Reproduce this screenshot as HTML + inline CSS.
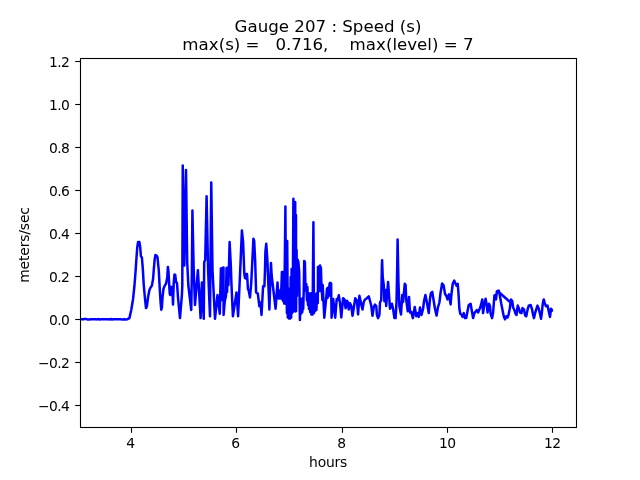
<!DOCTYPE html>
<html><head><meta charset="utf-8"><title>Gauge 207 : Speed (s)</title>
<style>
html,body{margin:0;padding:0;background:#fff;}
body{width:640px;height:480px;overflow:hidden;}
svg{display:block;}
text{font-family:"DejaVu Sans","Liberation Sans",sans-serif;fill:#000;}
.t{font-size:13.89px;letter-spacing:-0.6px;}
.h{font-size:16.67px;}
</style></head><body>
<svg width="640" height="480" viewBox="0 0 640 480">
<rect width="640" height="480" fill="#fff"/>
<clipPath id="c"><rect x="80" y="57.6" width="496" height="369.6"/></clipPath>
<path d="M80.00,319.05 L81.65,319.14 L83.38,319.31 L84.46,318.91 L86.46,319.07 L87.74,319.55 L89.31,319.44 L90.88,319.32 L92.06,319.31 L94.10,319.24 L95.99,319.34 L97.07,319.39 L98.78,319.10 L99.81,319.46 L101.38,319.37 L103.44,319.36 L105.54,319.16 L107.50,319.19 L109.62,319.47 L110.74,318.99 L112.00,319.53 L113.53,319.31 L114.89,319.23 L116.35,319.13 L118.05,319.28 L120.14,319.34 L122.25,319.46 L124.44,319.34 L125.64,319.46 L127.50,319.20 L129.40,318.10 L131.25,310.00 L133.10,298.75 L134.40,286.25 L135.60,271.00 L136.50,257.50 L137.25,247.50 L138.10,241.90 L139.40,241.90 L140.25,247.50 L140.90,256.25 L141.90,257.50 L142.50,265.00 L142.90,270.00 L143.75,285.00 L145.00,298.75 L146.00,308.10 L146.90,306.25 L148.10,296.90 L149.40,290.00 L150.60,287.50 L151.90,285.60 L153.10,278.75 L153.75,270.00 L154.60,260.00 L155.40,255.00 L156.60,255.60 L157.50,257.25 L158.10,263.75 L158.75,270.00 L159.75,288.75 L160.60,302.50 L161.25,309.75 L161.90,307.50 L162.50,297.50 L163.50,288.75 L164.75,285.60 L166.00,283.75 L167.25,277.50 L167.90,266.90 L168.50,272.00 L169.10,282.50 L169.75,293.75 L170.25,295.00 L171.00,286.90 L172.25,286.90 L173.00,304.40 L173.75,282.50 L174.50,274.40 L175.25,275.00 L176.00,281.90 L177.00,283.10 L178.10,298.75 L180.00,318.10 L181.90,295.00 L182.30,286.00 L182.75,165.40 L184.30,265.50 L186.00,170.00 L187.20,262.00 L188.30,285.00 L191.25,310.00 L191.90,270.00 L192.40,210.40 L193.70,270.00 L195.00,305.00 L197.90,270.20 L200.60,318.10 L201.90,282.50 L203.75,318.75 L204.20,262.00 L205.20,260.00 L206.60,196.25 L208.10,270.00 L210.00,316.25 L211.25,182.50 L212.50,270.00 L215.00,318.75 L217.50,295.00 L219.80,313.75 L220.90,268.50 L221.60,300.00 L222.30,268.00 L223.00,300.00 L223.50,267.50 L223.60,315.00 L224.80,301.00 L226.00,296.00 L226.50,268.00 L227.10,292.00 L227.80,267.50 L228.40,285.00 L229.00,266.00 L229.60,242.00 L230.80,265.00 L231.50,285.00 L232.90,316.25 L236.50,292.50 L238.10,316.25 L240.00,275.00 L241.90,230.60 L243.10,242.00 L244.30,273.50 L245.00,278.00 L245.60,274.00 L246.40,279.00 L247.00,274.00 L247.50,281.00 L247.90,289.00 L248.60,290.00 L250.00,297.50 L251.25,282.50 L251.90,270.00 L253.40,238.75 L254.20,241.00 L255.20,262.00 L256.10,292.50 L257.80,293.50 L259.40,306.25 L260.60,302.50 L261.50,315.00 L263.10,286.25 L264.40,286.25 L265.00,270.00 L265.40,252.00 L266.25,243.75 L267.50,262.00 L267.75,270.00 L269.40,309.40 L270.50,275.00 L271.00,263.00 L271.60,275.00 L275.60,308.75 L277.50,282.50 L278.60,298.50 L279.20,290.50 L279.80,298.50 L280.40,290.50 L281.00,298.50 L281.90,272.00 L282.30,299.50 L282.80,272.00 L283.20,301.00 L283.70,272.00 L284.10,303.50 L284.70,272.00 L285.40,206.60 L286.00,304.00 L286.40,241.00 L286.90,313.00 L287.20,241.00 L287.80,317.50 L288.40,288.50 L289.00,318.50 L289.60,288.50 L290.20,318.50 L290.70,277.00 L291.20,317.50 L291.60,269.00 L292.00,313.00 L292.70,312.00 L293.40,198.75 L294.00,311.00 L294.60,203.00 L295.20,202.00 L295.50,311.50 L296.00,215.00 L296.10,311.00 L296.60,250.00 L296.90,296.00 L297.50,259.50 L298.40,262.00 L299.20,272.00 L299.90,320.00 L300.80,299.00 L301.30,313.50 L301.80,299.00 L302.30,312.00 L302.80,298.00 L303.20,309.00 L303.70,292.00 L304.20,261.00 L304.90,262.00 L305.50,290.50 L306.30,284.00 L307.00,300.50 L307.40,287.00 L308.00,305.00 L308.40,293.50 L309.00,309.00 L309.60,293.50 L310.20,312.00 L310.80,293.50 L311.40,314.50 L312.00,293.00 L312.60,314.50 L313.40,222.25 L314.00,313.00 L314.60,294.00 L315.20,311.00 L315.80,294.00 L316.40,310.00 L317.20,293.00 L317.80,303.00 L318.00,267.00 L318.60,291.00 L319.10,266.50 L319.60,291.00 L320.10,265.50 L320.60,291.00 L320.90,267.50 L321.40,284.00 L322.40,300.00 L322.70,285.00 L324.30,317.70 L326.40,296.00 L327.00,288.50 L327.60,298.00 L328.20,287.50 L328.90,296.00 L329.50,284.00 L330.10,282.80 L331.10,283.30 L331.60,317.70 L333.20,299.00 L335.20,317.70 L336.70,299.00 L337.80,300.00 L338.80,295.30 L340.00,303.00 L341.30,317.50 L343.10,298.25 L344.40,299.50 L345.60,308.25 L346.90,300.75 L347.75,302.00 L348.75,309.50 L350.00,303.25 L351.25,305.75 L352.50,315.75 L353.75,308.25 L355.25,298.25 L356.90,300.75 L358.10,314.50 L359.40,295.75 L360.25,299.50 L361.25,304.50 L362.50,309.50 L363.75,302.00 L365.00,299.50 L366.90,298.25 L368.75,296.40 L370.00,300.75 L371.25,305.75 L372.50,315.75 L373.75,307.00 L375.00,304.50 L376.25,306.25 L376.90,315.00 L378.10,318.10 L379.40,315.00 L380.00,302.50 L381.25,300.00 L381.90,265.00 L382.10,260.30 L382.75,277.50 L383.75,285.00 L384.40,301.25 L385.60,290.00 L386.20,306.00 L388.10,281.90 L390.00,308.75 L391.90,303.75 L393.10,308.75 L394.40,318.10 L395.60,318.10 L396.50,302.50 L397.25,265.00 L397.60,239.60 L398.50,283.75 L399.40,306.25 L401.00,314.40 L402.25,295.00 L403.10,302.00 L404.75,283.75 L405.60,285.00 L406.25,300.00 L407.75,311.25 L409.00,296.90 L410.00,312.50 L411.25,311.90 L412.90,318.10 L414.75,306.90 L416.25,316.25 L417.50,313.10 L418.75,316.90 L420.00,307.50 L421.50,315.00 L423.10,308.75 L424.00,301.25 L425.40,295.00 L426.90,302.50 L428.75,313.10 L430.00,298.75 L430.90,293.10 L432.25,291.90 L433.75,301.25 L435.00,308.75 L436.60,315.60 L437.90,307.50 L439.40,302.50 L440.60,292.50 L442.10,283.50 L443.50,285.00 L445.00,293.75 L446.50,296.25 L447.50,299.40 L449.00,294.40 L450.60,304.40 L451.50,293.75 L452.75,283.75 L454.20,280.60 L455.60,283.75 L456.50,285.60 L457.75,283.75 L458.50,293.75 L459.40,308.75 L460.25,313.75 L461.90,315.00 L462.50,316.90 L463.75,313.10 L465.00,318.10 L466.25,318.10 L467.50,311.25 L468.75,305.00 L470.60,303.75 L471.90,311.25 L473.10,318.10 L474.40,313.10 L476.90,310.00 L478.10,312.50 L480.00,308.10 L481.00,305.00 L482.25,299.40 L483.10,313.10 L484.00,306.25 L485.60,298.75 L486.90,306.25 L487.50,312.50 L489.00,303.75 L490.00,306.25 L490.60,313.75 L492.10,318.10 L493.10,312.50 L494.40,295.60 L495.25,295.00 L496.00,299.40 L496.90,291.25 L498.75,290.60 L500.00,296.25 L501.25,303.75 L502.50,310.00 L503.75,316.25 L505.00,319.40 L506.25,316.25 L507.50,317.50 L508.50,315.00 L509.75,308.75 L511.00,299.40 L512.25,301.25 L513.10,307.50 L514.40,310.00 L515.60,313.75 L516.50,315.00 L517.75,305.60 L519.00,308.75 L520.00,312.50 L521.50,313.10 L522.50,308.10 L524.00,309.40 L525.00,315.00 L526.25,316.25 L527.50,310.00 L528.75,305.60 L530.60,305.00 L531.90,308.75 L533.10,315.00 L534.00,318.10 L535.25,312.50 L536.25,309.40 L537.50,305.60 L538.75,308.75 L540.00,313.75 L541.00,318.75 L541.90,312.50 L542.75,303.75 L543.75,299.40 L544.75,303.10 L546.00,306.25 L547.50,305.60 L548.75,311.25 L550.00,316.90 L551.00,308.75 L552.25,310.60 L553.10,310.60" fill="none" stroke="#0000ff" stroke-width="2.5" stroke-linejoin="round" stroke-linecap="butt" clip-path="url(#c)"/>
<path d="M498.75,292 L510.6,302.5" fill="none" stroke="#0000ff" stroke-width="2.5"/>
<line x1="131.5" y1="427.5" x2="131.5" y2="432.8" stroke="#000" stroke-width="1.1"/>
<text class="t" x="130.3" y="447.8" text-anchor="middle">4</text>
<line x1="236.5" y1="427.5" x2="236.5" y2="432.8" stroke="#000" stroke-width="1.1"/>
<text class="t" x="235.3" y="447.8" text-anchor="middle">6</text>
<line x1="342.5" y1="427.5" x2="342.5" y2="432.8" stroke="#000" stroke-width="1.1"/>
<text class="t" x="341.3" y="447.8" text-anchor="middle">8</text>
<line x1="447.5" y1="427.5" x2="447.5" y2="432.8" stroke="#000" stroke-width="1.1"/>
<text class="t" x="447.2" y="447.8" text-anchor="middle">10</text>
<line x1="552.5" y1="427.5" x2="552.5" y2="432.8" stroke="#000" stroke-width="1.1"/>
<text class="t" x="552.2" y="447.8" text-anchor="middle">12</text>
<line x1="75.2" y1="405.5" x2="80.5" y2="405.5" stroke="#000" stroke-width="1.1"/>
<text class="t" x="69.3" y="410.8" text-anchor="end">−0.4</text>
<line x1="75.2" y1="362.5" x2="80.5" y2="362.5" stroke="#000" stroke-width="1.1"/>
<text class="t" x="69.3" y="367.8" text-anchor="end">−0.2</text>
<line x1="75.2" y1="319.5" x2="80.5" y2="319.5" stroke="#000" stroke-width="1.1"/>
<text class="t" x="69.3" y="324.8" text-anchor="end">0.0</text>
<line x1="75.2" y1="276.5" x2="80.5" y2="276.5" stroke="#000" stroke-width="1.1"/>
<text class="t" x="69.3" y="281.8" text-anchor="end">0.2</text>
<line x1="75.2" y1="233.5" x2="80.5" y2="233.5" stroke="#000" stroke-width="1.1"/>
<text class="t" x="69.3" y="238.8" text-anchor="end">0.4</text>
<line x1="75.2" y1="190.5" x2="80.5" y2="190.5" stroke="#000" stroke-width="1.1"/>
<text class="t" x="69.3" y="195.8" text-anchor="end">0.6</text>
<line x1="75.2" y1="147.5" x2="80.5" y2="147.5" stroke="#000" stroke-width="1.1"/>
<text class="t" x="69.3" y="152.8" text-anchor="end">0.8</text>
<line x1="75.2" y1="104.5" x2="80.5" y2="104.5" stroke="#000" stroke-width="1.1"/>
<text class="t" x="69.3" y="109.8" text-anchor="end">1.0</text>
<line x1="75.2" y1="61.5" x2="80.5" y2="61.5" stroke="#000" stroke-width="1.1"/>
<text class="t" x="69.3" y="66.8" text-anchor="end">1.2</text>
<rect x="80.5" y="58.5" width="496" height="369" fill="none" stroke="#000" stroke-width="1.1"/>
<text class="t" style="letter-spacing:-0.25px" x="328" y="466.5" text-anchor="middle">hours</text>
<text class="t" style="letter-spacing:-0.15px" transform="translate(28.7,245) rotate(-90)" text-anchor="middle">meters/sec</text>
<text class="h" x="328" y="31.5" text-anchor="middle" xml:space="preserve">Gauge 207 : Speed (s)</text>
<text class="h" x="328" y="49.5" text-anchor="middle" xml:space="preserve">max(s) =   0.716,    max(level) = 7</text>
</svg>
</body></html>
